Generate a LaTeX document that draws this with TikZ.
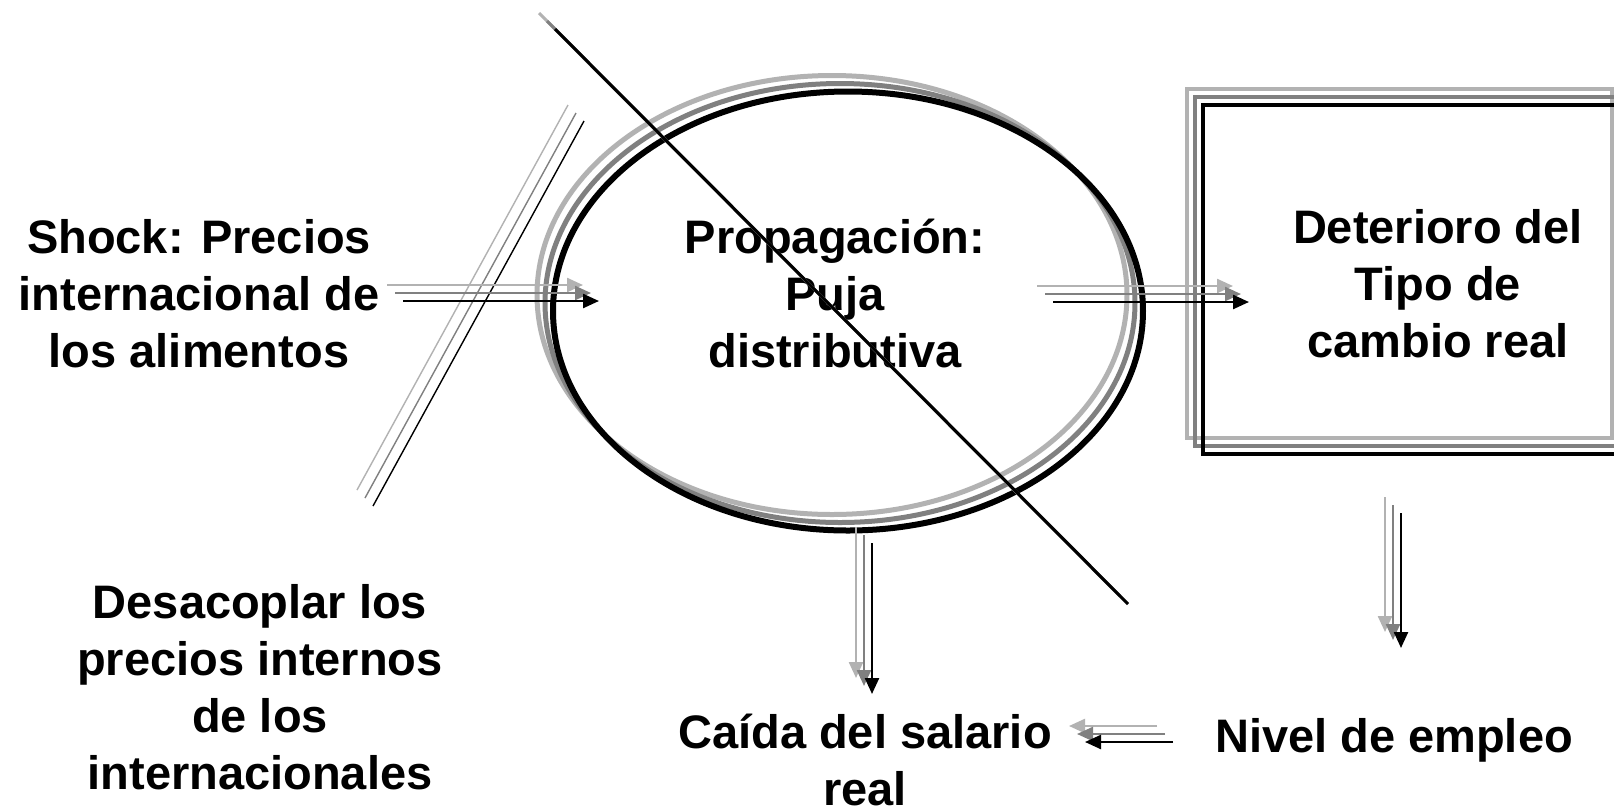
\documentclass[tikz,border=0pt]{standalone}
\usepackage{fontspec}
\setmainfont{Liberation Sans}
\usetikzlibrary{arrows.meta,calc,shapes.geometric}
\definecolor{lgray}{HTML}{B2B2B2}
\definecolor{mgray}{HTML}{808080}
\newcommand\tripdraw[3]{%
  \draw[#1,lgray] ($(#2)+(-16,-16)$) -- ($(#3)+(-16,-16)$);
  \draw[#1,mgray] ($(#2)+(-8,-8)$) -- ($(#3)+(-8,-8)$);
  \draw[#1,black] (#2) -- (#3);}
\begin{document}
\begin{tikzpicture}[x=0.5pt,y=-0.5pt,
  txt/.style={align=center, font=\fontsize{23.5pt}{28.5pt}\selectfont\bfseries, inner sep=0pt},
  arr/.style={line width=1.2pt, -{Triangle[length=8pt,width=7pt]}},
  slashline/.style={line width=0.7pt},
  longline/.style={line width=1.5pt},
  ell/.style={ellipse, minimum width=295pt, minimum height=219.5pt, inner sep=0pt},
  boxs/.style={rectangle, minimum width=212.5pt, minimum height=174.5pt, inner sep=0pt, line width=1.8pt},
]
\useasboundingbox (0,0) rectangle (1614,810);
\clip (0,0) rectangle (1614,810);
\fill[white] (0,0) rectangle (1614,810);

% ellipse (three copies)
\node[ell, draw=lgray, line width=2.5pt] (propA) at (832,295) {};
\node[ell, draw=mgray, line width=2.5pt] (propB) at (840,303) {};
\node[ell, draw=black, line width=3pt] (prop) at (848,311) {};

% rectangle (three copies)
\node[boxs, draw=lgray] (detA) at (1399.5,263.5) {};
\node[boxs, draw=mgray] (detB) at (1407.5,271.5) {};
\node[boxs, draw=black] (det) at (1415.5,279.5) {};

% texts
\node[txt] (shock) at (199,294) {Shock: Precios\\internacional de\\los alimentos};
\node[txt] (proptext) at (835,293) {Propagación:\\Puja\\distributiva};
\node[txt] (dettext) at (1438,284) {Deterioro del\\Tipo de\\cambio real};
\node[txt] (desac) at (260,687) {Desacoplar los\\precios internos\\de los\\internacionales};
\node[txt] (caida) at (865,760) {Caída del salario\\real};
\node[txt] (nivel) at (1394,740) {Nivel de empleo};

% slash lines (blocked)
\coordinate (s1) at (584,121);
\coordinate (s2) at (373,506);
\tripdraw{slashline}{s1}{s2}

% arrow coordinates
\coordinate (a1s) at (403,301); \coordinate (a1e) at (599,301);
\coordinate (a2s) at (1053,302); \coordinate (a2e) at (1249,302);
\coordinate (a3s) at (872,543); \coordinate (a3e) at (872,694);
\coordinate (a4s) at (1401,513); \coordinate (a4e) at (1401,648);
\coordinate (a5s) at (1173,742); \coordinate (a5e) at (1085,742);

\tripdraw{arr}{a1s}{a1e}
\tripdraw{arr}{a2s}{a2e}
\tripdraw{arr}{a3s}{a3e}
\tripdraw{arr}{a4s}{a4e}
\tripdraw{arr}{a5s}{a5e}

% long diagonal line
\coordinate (l1) at (555,29);
\coordinate (l2) at (1128,604);
\tripdraw{longline}{l1}{l2}
\end{tikzpicture}
\end{document}
